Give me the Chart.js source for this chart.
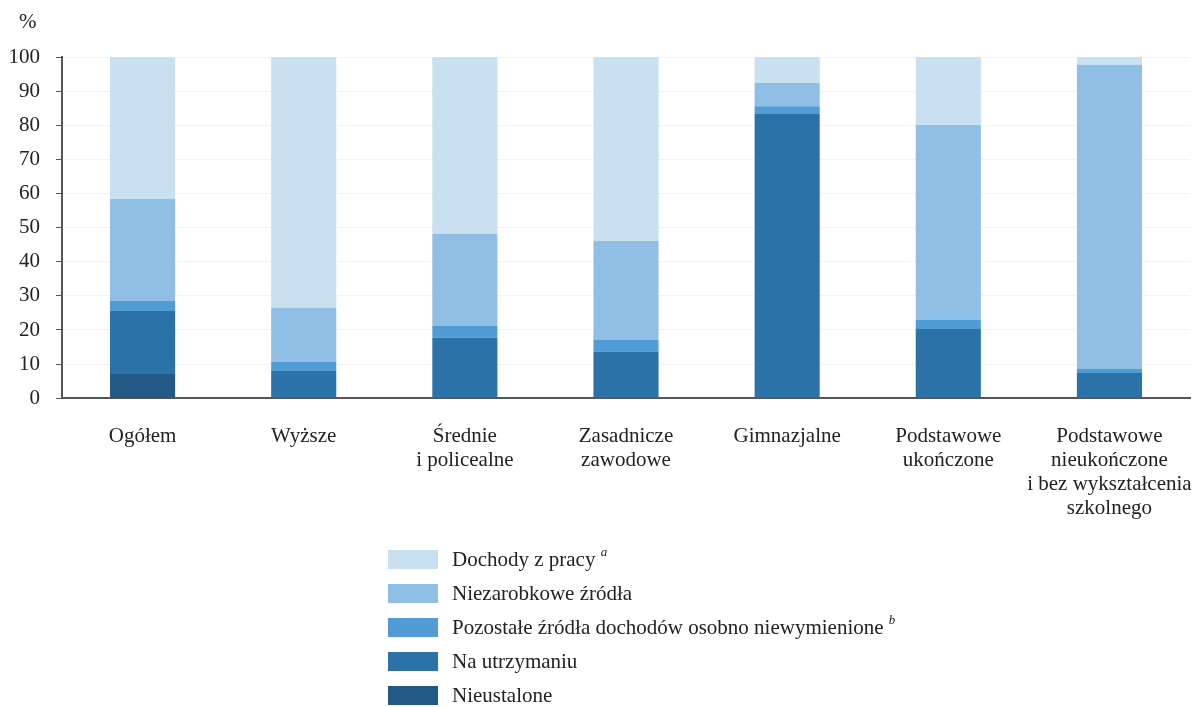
<!DOCTYPE html>
<html>
<head>
<meta charset="utf-8">
<script src="https://cdn.jsdelivr.net/npm/chart.js@4"></script>
<style>
  html, body { margin: 0; padding: 0; background: #fff; }
  #wrap { width: 1192px; height: 707px; }
</style>
</head>
<body>
<div id="wrap"><canvas id="chart" width="1192" height="707"></canvas></div>
<script>
var categories = [
    'Ogółem',
    'Wyższe',
    ['Średnie', 'i policealne'],
    ['Zasadnicze', 'zawodowe'],
    'Gimnazjalne',
    ['Podstawowe', 'ukończone'],
    ['Podstawowe', 'nieukończone', 'i bez wykształcenia', 'szkolnego']
];

// values in %, stacked from the bottom up
var nieustalone   = [7.1, 0, 0, 0, 0, 0, 0];
var naUtrzymaniu  = [18.5, 8.0, 17.7, 13.6, 83.3, 20.3, 7.4];
var pozostale     = [2.9, 2.6, 3.5, 3.5, 2.3, 2.6, 1.2];
var niezarobkowe  = [29.9, 15.9, 26.9, 29.0, 6.8, 57.2, 89.1];
var dochodyZPracy = [41.6, 73.5, 51.9, 53.9, 7.6, 19.9, 2.3];

var seriesNames = ['Nieustalone', 'Na utrzymaniu', 'Pozostałe źródła dochodów osobno niewymienione', 'Niezarobkowe źródła', 'Dochody z pracy'];
var seriesNotes = ['', '', 'b', '', 'a'];
var yTicks = [0, 10, 20, 30, 40, 50, 60, 70, 80, 90, 100];

var colors = ['#225985', '#2a72a7', '#519cd4', '#8fbfe4', '#c9e0f0'];
var serif = '"Liberation Serif", "Times New Roman", serif';

var allSeries = [nieustalone, naUtrzymaniu, pozostale, niezarobkowe, dochodyZPracy];
var datasets = allSeries.map(function (vals, i) {
    return {
        label: seriesNames[i],
        data: vals,
        backgroundColor: colors[i],
        borderWidth: 0,
        categoryPercentage: 1,
        barPercentage: 0.404
    };
});

// "%" above the axis + the vertical legend underneath
var extras = {
    id: 'extras',
    afterDraw: function (chart) {
        var ctx = chart.ctx;
        ctx.save();
        ctx.fillStyle = '#222';
        ctx.font = '21px ' + serif;
        ctx.textBaseline = 'middle';
        ctx.textAlign = 'left';
        ctx.fillText('%', 19, 22);

        var x = 388, top = 550, step = 34;
        for (var k = 0; k < datasets.length; k++) {
            var i = datasets.length - 1 - k; // reverse: top series first
            var y = top + k * step;
            ctx.fillStyle = colors[i];
            ctx.fillRect(x, y, 50, 19);
            ctx.fillStyle = '#222';
            ctx.font = '21px ' + serif;
            ctx.fillText(seriesNames[i], 452, y + 10);
            if (seriesNotes[i]) {
                var w = ctx.measureText(seriesNames[i] + ' ').width;
                ctx.font = 'italic 13px ' + serif;
                ctx.fillText(seriesNotes[i], 452 + w, y + 3);
            }
        }
        ctx.restore();
    }
};

var ctx = document.getElementById('chart').getContext('2d');
new Chart(ctx, {
    type: 'bar',
    data: { labels: categories, datasets: datasets },
    plugins: [extras],
    options: {
        responsive: false,
        animation: false,
        devicePixelRatio: 1,
        layout: { padding: { top: 57, right: 2, bottom: 161, left: 0 } },
        plugins: {
            legend: { display: false },
            tooltip: { enabled: false }
        },
        scales: {
            x: {
                stacked: true,
                afterFit: function (scale) { scale.paddingLeft = 0; scale.paddingRight = 0; },
                grid: { color: 'rgba(0,0,0,0)', drawTicks: false },
                border: { color: '#555', width: 2 },
                ticks: {
                    color: '#222',
                    padding: 26,
                    maxRotation: 0,
                    autoSkip: false,
                    font: { family: serif, size: 21, lineHeight: 1.14 }
                }
            },
            y: {
                stacked: true,
                min: 0,
                max: 100,
                afterBuildTicks: function (scale) {
                    scale.ticks = yTicks.map(function (v) { return { value: v }; });
                },
                afterFit: function (scale) { scale.width = 62; },
                grid: { color: '#f3f3f3', tickColor: '#555', tickLength: 6 },
                border: { color: '#555', width: 2 },
                ticks: {
                    color: '#222',
                    padding: 16,
                    font: { family: serif, size: 21 }
                }
            }
        }
    }
});
</script>
</body>
</html>
